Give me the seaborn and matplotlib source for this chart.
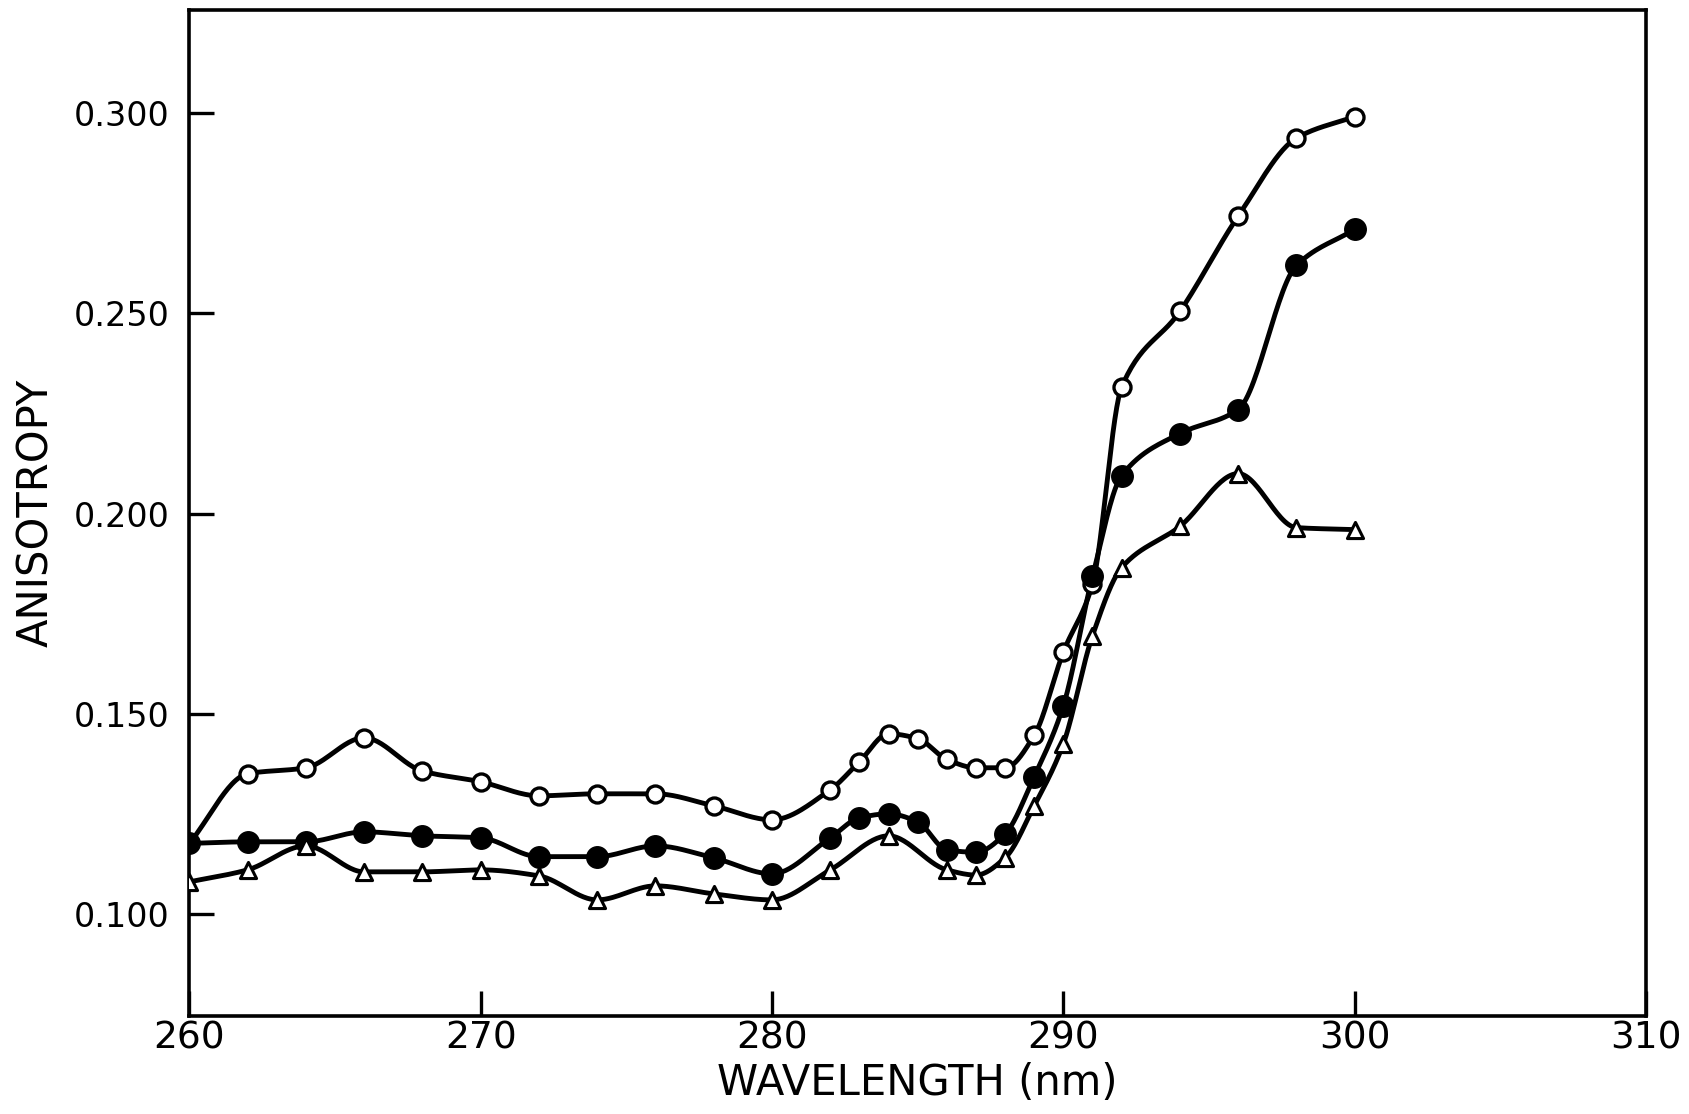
import numpy as np
import pandas as pd
import matplotlib
matplotlib.use('Agg')
import matplotlib.pyplot as plt
import seaborn as sns

# =============================================================
# DATA
# =============================================================
wl_open = [260, 262, 264, 266, 268, 270, 272, 274, 276, 278, 280, 282, 283,
           284, 285, 286, 287, 288, 289, 290, 291, 292, 294, 296, 298, 300]
aniso_open = [0.1176, 0.1350, 0.1365, 0.1440, 0.1357, 0.1330, 0.1295, 0.1300,
              0.1300, 0.1270, 0.1235, 0.1310, 0.1380, 0.1450, 0.1438, 0.1386,
              0.1365, 0.1365, 0.1446, 0.1654, 0.1824, 0.2316, 0.2505, 0.2743,
              0.2938, 0.2992]

wl_filled = [260, 262, 264, 266, 268, 270, 272, 274, 276, 278, 280, 282, 283,
             284, 285, 286, 287, 288, 289, 290, 291, 292, 294, 296, 298, 300]
aniso_filled = [0.1176, 0.1180, 0.1180, 0.1205, 0.1195, 0.1190, 0.1143, 0.1143,
                0.1170, 0.1140, 0.1100, 0.1190, 0.1240, 0.1250, 0.1230, 0.1160,
                0.1154, 0.1200, 0.1343, 0.1520, 0.1843, 0.2095, 0.2200, 0.2260,
                0.2620, 0.2710]

wl_tri = [260, 262, 264, 266, 268, 270, 272, 274, 276, 278, 280, 282, 284,
          286, 287, 288, 289, 290, 291, 292, 294, 296, 298, 300]
aniso_tri = [0.1080, 0.1110, 0.1170, 0.1105, 0.1105, 0.1110, 0.1095, 0.1035,
             0.1070, 0.1050, 0.1035, 0.1110, 0.1195, 0.1110, 0.1097, 0.1140,
             0.1270, 0.1425, 0.1695, 0.1865, 0.1968, 0.2100, 0.1965, 0.1960]

x_ticks = [260, 270, 280, 290, 300, 310]
y_ticks = [0.100, 0.150, 0.200, 0.250, 0.300]


# =============================================================
# SMOOTH CURVE THROUGH THE POINTS (monotone cubic, no overshoot)
# =============================================================
def pchip_curve(x, y, n=30):
    x = np.asarray(x, float)
    y = np.asarray(y, float)
    h = np.diff(x)
    d = np.diff(y) / h
    m = np.zeros_like(y)
    for i in range(1, len(x) - 1):
        if d[i - 1] * d[i] > 0:
            w1 = 2 * h[i] + h[i - 1]
            w2 = h[i] + 2 * h[i - 1]
            m[i] = (w1 + w2) / (w1 / d[i - 1] + w2 / d[i])
    m[0], m[-1] = d[0], d[-1]
    xs, ys = [], []
    for i in range(len(h)):
        t = np.linspace(0, 1, n, endpoint=False)
        h00 = 2 * t**3 - 3 * t**2 + 1
        h10 = t**3 - 2 * t**2 + t
        h01 = -2 * t**3 + 3 * t**2
        h11 = t**3 - t**2
        xs.append(x[i] + t * h[i])
        ys.append(h00 * y[i] + h10 * h[i] * m[i] + h01 * y[i + 1] + h11 * h[i] * m[i + 1])
    xs.append([x[-1]])
    ys.append([y[-1]])
    return np.concatenate(xs), np.concatenate(ys)


# =============================================================
# PLOT
# =============================================================
sns.set_style('white')
plt.rcParams['font.family'] = ['DejaVu Sans']

fig = plt.figure(figsize=(16.9, 11.14), dpi=100)
ax = fig.add_axes([0.112, 0.088, 0.862, 0.903])

series = [
    (wl_open, aniso_open, dict(marker='o', s=150, facecolor='white', edgecolor='black', linewidth=2.4)),
    (wl_filled, aniso_filled, dict(marker='o', s=240, facecolor='black', edgecolor='black', linewidth=1)),
    (wl_tri, aniso_tri, dict(marker='^', s=135, facecolor='white', edgecolor='black', linewidth=2.2)),
]

for wl, an, mk in series:
    cx, cy = pchip_curve(wl, an)
    sns.lineplot(x=cx, y=cy, ax=ax, color='black', linewidth=3.5, sort=False,
                 estimator=None, zorder=2)
for wl, an, mk in series:
    df = pd.DataFrame({'wl': wl, 'an': an})
    sns.scatterplot(data=df, x='wl', y='an', ax=ax, zorder=3, **mk)

ax.set_xlim(260, 310)
ax.set_ylim(0.0745, 0.3258)
ax.set_xticks(x_ticks)
ax.set_yticks(y_ticks)
ax.set_xticklabels([str(t) for t in x_ticks])
ax.set_yticklabels([f'{t:.3f}' for t in y_ticks])
ax.tick_params(axis='both', direction='in', length=18, width=2.4,
               colors='black', bottom=True, left=True)
ax.tick_params(axis='y', pad=14, labelsize=24)
ax.tick_params(axis='x', pad=3, labelsize=27)

for sp in ax.spines.values():
    sp.set_linewidth(2.6)
    sp.set_color('black')

ax.set_xlabel('WAVELENGTH (nm)', fontsize=30, labelpad=4, color='black')
ax.set_ylabel('ANISOTROPY', fontsize=30, labelpad=12, color='black')

plt.savefig('out.png', dpi=100)
